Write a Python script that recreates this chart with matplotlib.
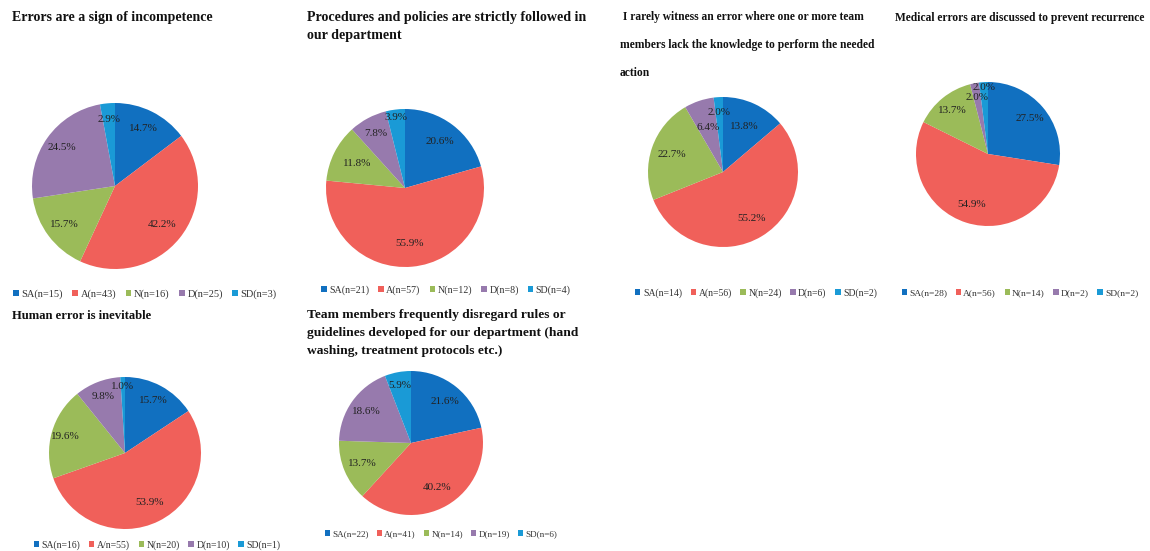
import matplotlib.pyplot as plt
import numpy as np

W, H = 1150, 551

cats = ['SA', 'A', 'N', 'D', 'SD']
colors = ['#1170C0', '#F0605A', '#9BBB59', '#977AAD', '#1A9AD6']

# percentages shown on the slices
pct_incompetence = [14.7, 42.2, 15.7, 24.5, 2.9]
pct_procedures = [20.6, 55.9, 11.8, 7.8, 3.9]
pct_knowledge = [13.8, 55.2, 22.7, 6.4, 2.0]
pct_discussed = [27.5, 54.9, 13.7, 2.0, 2.0]
pct_inevitable = [15.7, 53.9, 19.6, 9.8, 1.0]
pct_disregard = [21.6, 40.2, 13.7, 18.6, 5.9]

# legend labels (as printed, typo included)
leg_incompetence = ['SA(n=15)', 'A(n=43)', 'N(n=16)', 'D(n=25)', 'SD(n=3)']
leg_procedures = ['SA(n=21)', 'A(n=57)', 'N(n=12)', 'D(n=8)', 'SD(n=4)']
leg_knowledge = ['SA(n=14)', 'A(n=56)', 'N(n=24)', 'D(n=6)', 'SD(n=2)']
leg_discussed = ['SA(n=28)', 'A(n=56)', 'N(n=14)', 'D(n=2)', 'SD(n=2)']
leg_inevitable = ['SA(n=16)', 'A/n=55)', 'N(n=20)', 'D(n=10)', 'SD(n=1)']
leg_disregard = ['SA(n=22)', 'A(n=41)', 'N(n=14)', 'D(n=19)', 'SD(n=6)']

titles = [
    'Errors are a sign of incompetence',
    'Procedures and policies are strictly followed in\nour department',
    ' I rarely witness an error where one or more team\nmembers lack the knowledge to perform the needed\naction',
    'Medical errors are discussed to prevent recurrence',
    'Human error is inevitable',
    'Team members frequently disregard rules or\nguidelines developed for our department (hand\nwashing, treatment protocols etc.)',
]

# layout in pixels: pie centre x, y, radius, title x, y, size, linespacing,
# legend x, y, legend font size
layout = [
    (115, 186, 83, 12, 11, 10.0, 1.2, 145, 294, 7.5),
    (405, 188, 79, 307, 11, 10.1, 1.55, 446, 290, 7.2),
    (723, 172, 75, 620, 11, 8.3, 2.75, 756, 293, 7.0),
    (988, 154, 72, 895, 12, 8.3, 1.2, 1020, 293, 6.8),
    (125, 453, 76, 12, 310, 9.1, 1.2, 157, 545, 7.0),
    (411, 443, 72, 307, 309, 9.7, 1.65, 441, 534, 6.6),
]

# radial position of the percent labels (fraction of radius), per slice
label_dist = [
    [0.78, 0.73, 0.77, 0.79, 0.81],
    [0.74, 0.70, 0.68, 0.78, 0.90],
    [0.67, 0.73, 0.72, 0.62, 0.80],
    [0.76, 0.73, 0.78, 0.80, 0.93],
    [0.78, 0.73, 0.81, 0.80, 0.87],
    [0.74, 0.72, 0.73, 0.76, 0.81],
]

pcts = [pct_incompetence, pct_procedures, pct_knowledge,
        pct_discussed, pct_inevitable, pct_disregard]
legs = [leg_incompetence, leg_procedures, leg_knowledge,
        leg_discussed, leg_inevitable, leg_disregard]

plt.rcParams['font.family'] = ['Liberation Serif', 'DejaVu Serif']

fig = plt.figure(figsize=(W / 100, H / 100), dpi=100)
fig.patch.set_facecolor('white')

for p, lg, title, dists, (cx, cy, r, tx, ty, tfs, tls, lx, ly, lfs) in zip(
        pcts, legs, titles, label_dist, layout):
    ax = fig.add_axes([(cx - r) / W, 1 - (cy + r) / H, 2 * r / W, 2 * r / H])
    wedges, _ = ax.pie(p, colors=colors, startangle=90, counterclock=False,
                       radius=1, wedgeprops=dict(linewidth=0))
    ax.set_xlim(-1, 1)
    ax.set_ylim(-1, 1)
    ax.set_aspect('equal')
    ax.axis('off')

    # percent labels placed inside each wedge
    for w, v, d in zip(wedges, p, dists):
        mid = np.deg2rad((w.theta1 + w.theta2) / 2)
        ax.text(d * np.cos(mid), d * np.sin(mid), f'{v:.1f}%',
                ha='center', va='center', fontsize=8, color='#222222')

    fig.text(tx / W, 1 - ty / H, title, ha='left', va='top', fontsize=tfs,
             fontweight='bold', linespacing=tls, color='#111111')

    fig.legend(wedges, lg, loc='center', bbox_to_anchor=(lx / W, 1 - ly / H),
               ncol=5, frameon=False, fontsize=lfs, handlelength=0.55,
               handleheight=0.55, handletextpad=0.25, columnspacing=0.9,
               labelcolor='#333333')

plt.savefig('out.png', dpi=100, facecolor='white')
